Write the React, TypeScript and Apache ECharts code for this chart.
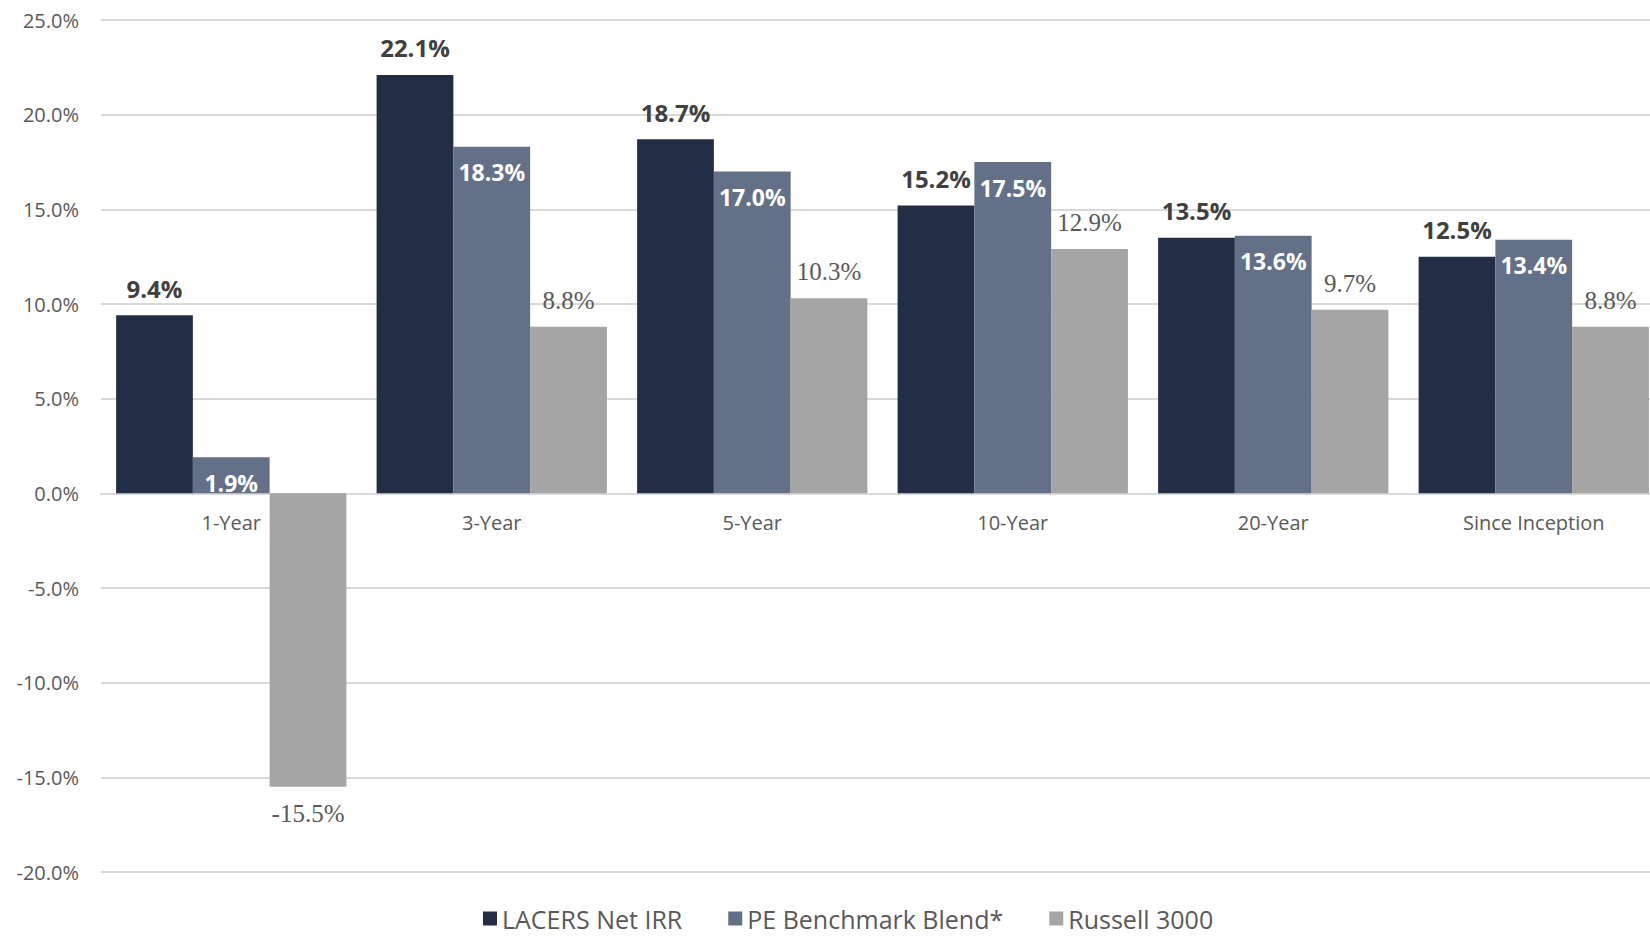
import React, { useEffect, useRef } from "react";
import * as echarts from "echarts";

const categories = ["1-Year", "3-Year", "5-Year", "10-Year", "20-Year", "Since Inception"];
const lacers = [9.4, 22.1, 18.7, 15.2, 13.5, 12.5];
const peBlend = [1.9, 18.3, 17.0, 17.5, 13.6, 13.4];
const russell = [-15.5, 8.8, 10.3, 12.9, 9.7, 8.8];
const seriesNames = ["LACERS Net IRR", "PE Benchmark Blend*", "Russell 3000"];
const yTicks = { min: -20, max: 25, interval: 5 };

const fmt = (p: any) => `${Number(p.value).toFixed(1)}%`;

export default function App() {
  const ref = useRef<HTMLDivElement>(null);
  useEffect(() => {
    document.body.style.margin = "0";
    const chart = echarts.init(ref.current!, null, { renderer: "svg" });
    const sansFont = "'Open Sans', 'Noto Sans', sans-serif";
    const gridTop = 20;
    const gridBottom = 64;
    const gridHeight = 936 - gridTop - gridBottom;
    const zeroOffset = (gridHeight * (0 - yTicks.min)) / (yTicks.max - yTicks.min);
    chart.setOption({
      animation: false,
      backgroundColor: "#ffffff",
      grid: {
        left: 101,
        right: -14,
        top: gridTop,
        bottom: gridBottom,
        containLabel: false,
        outerBoundsMode: "none",
      },
      legend: {
        top: 906,
        left: 483,
        padding: 0,
        itemWidth: 14,
        itemHeight: 14,
        itemGap: 46,
        icon: "rect",
        textStyle: { fontFamily: sansFont, fontSize: 25, lineHeight: 25, color: "#595959" },
        data: seriesNames,
      },
      xAxis: {
        type: "category",
        data: categories,
        position: "bottom",
        offset: -zeroOffset,
        axisLine: { onZero: false, lineStyle: { color: "#d9d9d9", width: 2 } },
        axisTick: { show: false },
        axisLabel: { color: "#595959", fontSize: 20, fontFamily: sansFont, margin: 19 },
      },
      yAxis: {
        type: "value",
        min: yTicks.min,
        max: yTicks.max,
        interval: yTicks.interval,
        axisLine: { show: false },
        axisTick: { show: false },
        splitLine: { lineStyle: { color: "#d9d9d9", width: 2 } },
        axisLabel: {
          color: "#595959",
          fontSize: 20,
          fontFamily: sansFont,
          margin: 22,
          formatter: (v: number) => `${v.toFixed(1)}%`,
        },
      },
      series: [
        {
          name: seriesNames[0],
          type: "bar",
          data: lacers,
          barGap: "0%",
          barCategoryGap: "11.6%",
          itemStyle: { color: "#232d45" },
          label: {
            show: true,
            position: "top",
            distance: 15,
            color: "#404040",
            fontWeight: "bold",
            fontSize: 24,
            fontFamily: sansFont,
            formatter: fmt,
          },
        },
        {
          name: seriesNames[1],
          type: "bar",
          data: peBlend,
          barGap: "0%",
          barCategoryGap: "11.6%",
          itemStyle: { color: "#647087" },
          label: {
            show: true,
            position: "insideTop",
            distance: 14,
            color: "#ffffff",
            fontWeight: "bold",
            fontSize: 23,
            fontFamily: sansFont,
            formatter: fmt,
          },
        },
        {
          name: seriesNames[2],
          type: "bar",
          barGap: "0%",
          barCategoryGap: "11.6%",
          data: russell.map((v) => ({
            value: v,
            label: { position: v < 0 ? "bottom" : "top" },
          })),
          itemStyle: { color: "#a5a5a5" },
          label: {
            show: true,
            position: "top",
            distance: 14,
            color: "#595959",
            fontSize: 25,
            fontFamily: "'Liberation Serif', serif",
            formatter: fmt,
          },
        },
      ],
    });
    return () => chart.dispose();
  }, []);
  return <div ref={ref} style={{ width: 1650, height: 936 }} />;
}
